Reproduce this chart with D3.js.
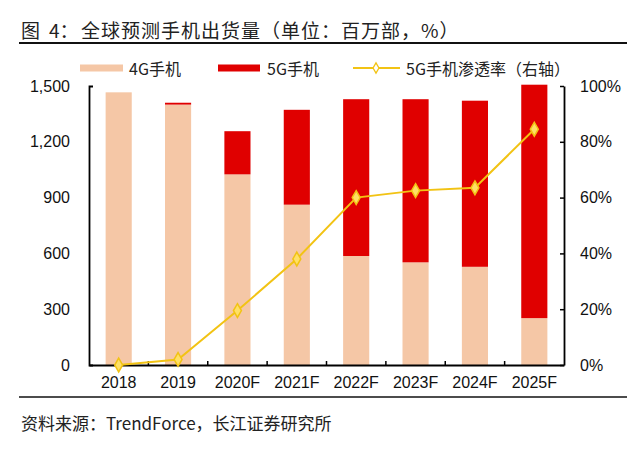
<!DOCTYPE html>
<html>
<head>
<meta charset="utf-8">
<script src="https://cdn.jsdelivr.net/npm/d3@7/dist/d3.min.js"></script>
<style>
  html, body { margin: 0; padding: 0; background: #fff; }
  svg { display: block; }
</style>
</head>
<body>
<svg id="chart" width="640" height="456"></svg>
<script>
const categories = ["2018", "2019", "2020F", "2021F", "2022F", "2023F", "2024F", "2025F"];
const shipments4G = [1466, 1400, 1025, 862, 586, 552, 528, 252];
const shipments5G = [0, 10, 232, 510, 843, 877, 893, 1255];
const penetration5G = [0, 2, 19.5, 38, 60, 62.5, 63.5, 84.5];
const leftTicks = [0, 300, 600, 900, 1200, 1500];
const rightTicks = [0, 20, 40, 60, 80, 100];
const seriesNames = ["4G手机", "5G手机", "5G手机渗透率（右轴）"];
const titleParts = ["图", "4：", "全球预测手机出货量（单位：百万部，%）"];
const sourceText = "资料来源：TrendForce，长江证券研究所";

const C4G = "#F5C7A6", C5G = "#E00000", CLINE = "#F2C314";
const cjk = "'Noto Sans CJK SC', 'Noto Sans', sans-serif";
const num = "'Liberation Sans', Arial, sans-serif";

const svg = d3.select("#chart");
const L = 89, R = 564, T = 86, B = 365;

const x = d3.scaleBand().domain(categories).range([L, R]).paddingInner(0.56).paddingOuter(0.28);
const y = d3.scaleLinear().domain([0, 1500]).range([B, T]);
const y2 = d3.scaleLinear().domain([0, 100]).range([B, T]);

// Title
const title = svg.append("text").attr("y", 29).attr("dominant-baseline", "central")
  .attr("font-family", cjk).attr("font-size", 19).attr("fill", "#222");
title.append("tspan").attr("x", 21).text(titleParts[0]);
title.append("tspan").attr("x", 49).text(titleParts[1]);
title.append("tspan").attr("x", 81).attr("letter-spacing", 1).text(titleParts[2]);
svg.append("line").attr("x1", 19).attr("x2", 627).attr("y1", 43).attr("y2", 43)
  .attr("stroke", "#111").attr("stroke-width", 2);

// Bars
const data = categories.map((c, i) => ({ c, a: shipments4G[i], b: shipments5G[i], p: penetration5G[i] }));
svg.append("g").selectAll("rect").data(data).join("rect")
  .attr("x", d => x(d.c)).attr("width", x.bandwidth())
  .attr("y", d => y(d.a)).attr("height", d => y(0) - y(d.a)).attr("fill", C4G);
svg.append("g").selectAll("rect").data(data.filter(d => d.b > 0)).join("rect")
  .attr("x", d => x(d.c)).attr("width", x.bandwidth())
  .attr("y", d => y(d.a + d.b)).attr("height", d => y(d.a) - y(d.a + d.b)).attr("fill", C5G);

// Axes
const axL = d3.axisLeft(y).tickValues(leftTicks).tickFormat(d3.format(",")).tickSizeInner(0).tickSizeOuter(-4).tickPadding(19);
const gL = svg.append("g").attr("transform", `translate(${L},0)`).call(axL);
const axR = d3.axisRight(y2).tickValues(rightTicks).tickFormat(d => d + "%").tickSizeInner(-4).tickSizeOuter(0).tickPadding(16);
const gR = svg.append("g").attr("transform", `translate(${R},0)`).call(axR);
const axB = d3.axisBottom(x).tickSize(0).tickPadding(12);
const gB = svg.append("g").attr("transform", `translate(0,${B})`).call(axB);
// category boundary ticks on x axis
const bounds = categories.slice(1).map(c => x(c) - x.step() * x.paddingInner() / 2);
svg.append("g").selectAll("line").data(bounds).join("line")
  .attr("x1", d => d).attr("x2", d => d).attr("y1", B).attr("y2", B - 4)
  .attr("stroke", "#000").attr("stroke-width", 1.5);

[gL, gR, gB].forEach(g => {
  g.selectAll("path.domain").attr("stroke", "#000").attr("stroke-width", 1.8);
  g.selectAll(".tick line").attr("stroke", "#000").attr("stroke-width", 1.5);
  g.selectAll("text").attr("font-family", num).attr("font-size", 16).attr("fill", "#111");
});
gB.selectAll("text").attr("dy", "0.71em");

// Penetration line
const lineGen = d3.line().x(d => x(d.c) + x.bandwidth() / 2).y(d => y2(d.p));
svg.append("path").datum(data).attr("d", lineGen).attr("fill", "none")
  .attr("stroke", CLINE).attr("stroke-width", 2);
const diamond = d3.symbol().type(d3.symbolDiamond).size(55);
svg.append("g").selectAll("path").data(data).join("path")
  .attr("d", diamond)
  .attr("transform", d => `translate(${x(d.c) + x.bandwidth() / 2},${y2(d.p)})`)
  .attr("fill", "#FFE066").attr("stroke", CLINE).attr("stroke-width", 1.5);

// Legend
const ly = 68;
const leg = svg.append("g");
leg.append("rect").attr("x", 80).attr("y", ly - 3.5).attr("width", 43).attr("height", 7).attr("fill", C4G);
leg.append("text").attr("x", 129).attr("y", ly).attr("dominant-baseline", "central")
  .attr("font-family", cjk).attr("font-size", 16).attr("fill", "#222").text(seriesNames[0]);
leg.append("rect").attr("x", 218).attr("y", ly - 3.5).attr("width", 42).attr("height", 7).attr("fill", C5G);
leg.append("text").attr("x", 267).attr("y", ly).attr("dominant-baseline", "central")
  .attr("font-family", cjk).attr("font-size", 16).attr("fill", "#222").text(seriesNames[1]);
leg.append("line").attr("x1", 353).attr("x2", 400).attr("y1", ly).attr("y2", ly)
  .attr("stroke", CLINE).attr("stroke-width", 2);
leg.append("path").attr("d", d3.symbol().type(d3.symbolDiamond).size(30)).attr("transform", `translate(376,${ly})`)
  .attr("fill", "#fff").attr("stroke", CLINE).attr("stroke-width", 1.3);
leg.append("text").attr("x", 406).attr("y", ly).attr("dominant-baseline", "central")
  .attr("font-family", cjk).attr("font-size", 16).attr("fill", "#222").text(seriesNames[2]);

// Bottom rule and source
svg.append("line").attr("x1", 19).attr("x2", 627).attr("y1", 397).attr("y2", 397)
  .attr("stroke", "#111").attr("stroke-width", 1.5);
svg.append("text").attr("x", 21).attr("y", 422).attr("dominant-baseline", "central")
  .attr("font-family", cjk).attr("font-size", 17).attr("fill", "#222").text(sourceText);
</script>
</body>
</html>
